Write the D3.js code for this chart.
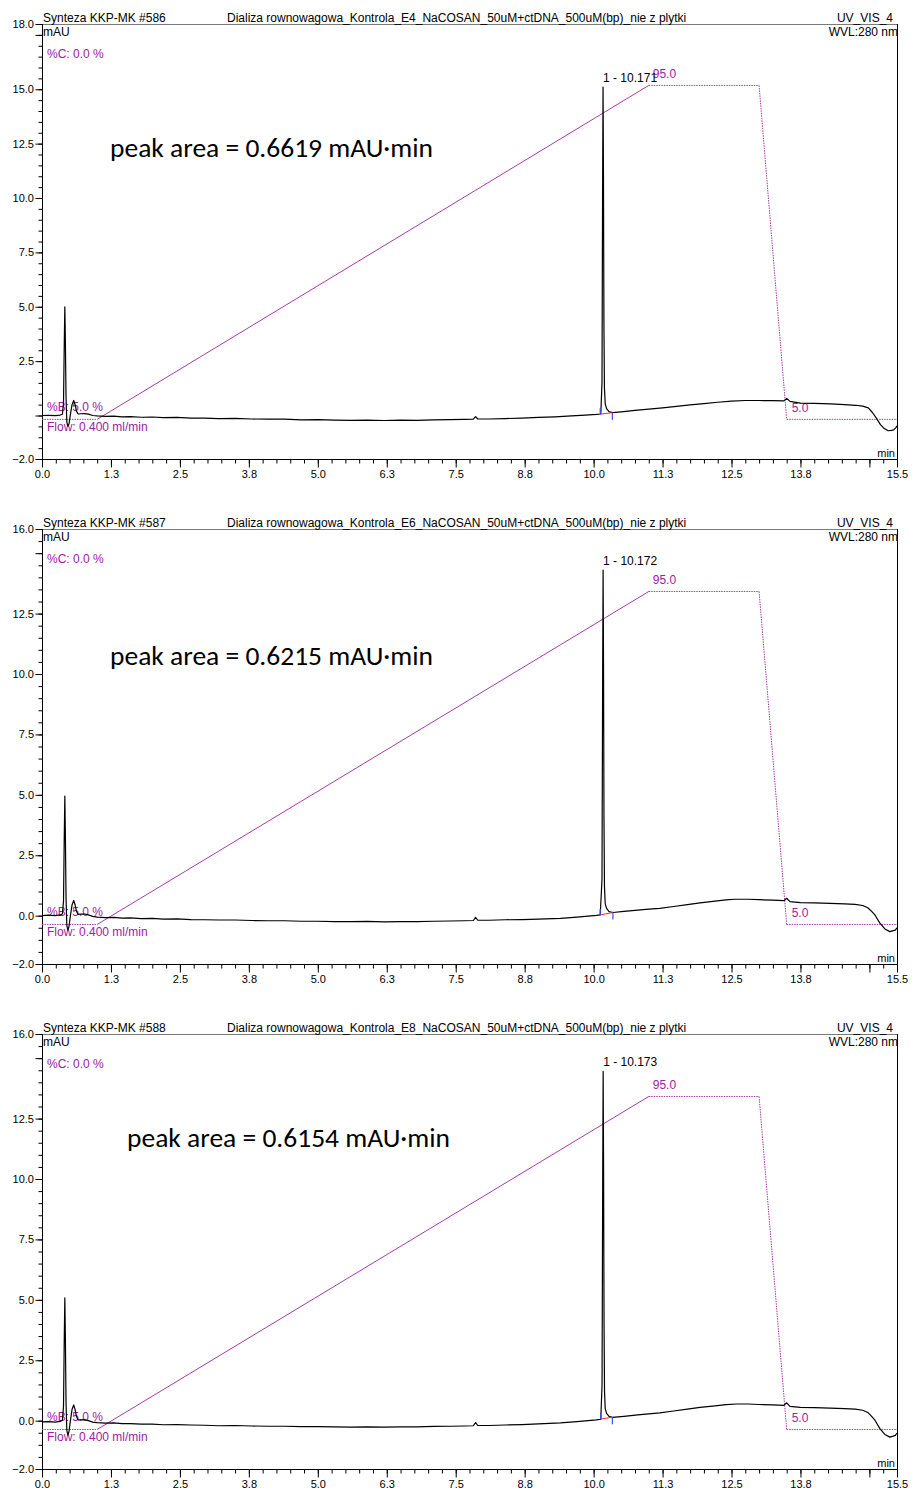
<!DOCTYPE html>
<html>
<head>
<meta charset="utf-8">
<script src="https://cdn.jsdelivr.net/npm/d3@7"></script>
<style>
  body { margin: 0; background: #fff; }
  svg { display: block; }
  text { font-family: "Liberation Sans", Arial, sans-serif; }
</style>
</head>
<body>
<svg id="chart" width="913" height="1492"></svg>
<script>
// ---- Run metadata (one entry per injection) ----
const sampleIds = ["Synteza KKP-MK #586", "Synteza KKP-MK #587", "Synteza KKP-MK #588"];
const sampleNames = [
  "Dializa rownowagowa_Kontrola_E4_NaCOSAN_50uM+ctDNA_500uM(bp)_nie z plytki",
  "Dializa rownowagowa_Kontrola_E6_NaCOSAN_50uM+ctDNA_500uM(bp)_nie z plytki",
  "Dializa rownowagowa_Kontrola_E8_NaCOSAN_50uM+ctDNA_500uM(bp)_nie z plytki"
];
const channelName = "UV_VIS_4";
const wavelengthLabel = "WVL:280 nm";
const peakRetention = [10.171, 10.172, 10.173];
const peakAreaLabels = ["peak area = 0.6619 mAU\u00b7min", "peak area = 0.6215 mAU\u00b7min", "peak area = 0.6154 mAU\u00b7min"];

// ---- Axis settings ----
const timeDomain = [0, 15.5];
const signalMax = [18, 16, 16];
const signalMin = [-2, -2, -2];
const timeMajorTicks = [0, 1.25, 2.5, 3.75, 5, 6.25, 7.5, 8.75, 10, 11.25, 12.5, 13.75, 15, 15.5];
const timeTickLabels = ["0.0", "1.3", "2.5", "3.8", "5.0", "6.3", "7.5", "8.8", "10.0", "11.3", "12.5", "13.8", "", "15.5"];
const signalMajorTicks = [
  [18, 17.5, 15, 12.5, 10, 7.5, 5, 2.5, 0, -2],
  [16, 15, 12.5, 10, 7.5, 5, 2.5, 0, -2],
  [16, 15, 12.5, 10, 7.5, 5, 2.5, 0, -2]
];
const signalTickLabels = [
  [18, 15, 12.5, 10, 7.5, 5, 2.5, -2],
  [16, 12.5, 10, 7.5, 5, 2.5, 0, -2],
  [16, 12.5, 10, 7.5, 5, 2.5, 0, -2]
];

// ---- Pump gradient program (%B) ----
const gradientTime = [0, 1.0, 11.0, 13.0, 13.5, 15.5];
const gradientPctB = [5, 5, 95, 95, 5, 5];
// %B 0..100 expressed on the signal axis of each panel
const pctBToSignal = [[-1.03, 16.03], [-1.13, 14.18], [-1.13, 14.18]];

// ---- Detector traces: [time (min), signal (mAU)] ----
const trace586 = [
  [0.00, 0.00], [0.12, 0.01], [0.24, -0.01], [0.33, 0.02], [0.37, 0.06], [0.39, 0.6], [0.402, 3.0],
  [0.414, 5.0], [0.424, 3.4], [0.436, 0.8], [0.45, -0.3], [0.468, -0.49], [0.49, -0.38], [0.515, 0.05],
  [0.545, 0.5], [0.575, 0.69], [0.60, 0.5], [0.625, 0.2], [0.655, 0.07], [0.70, 0.08], [0.77, 0.09],
  [0.84, 0.06], [0.92, 0.0], [1.00, -0.02], [1.15, -0.04], [1.30, -0.03], [1.45, -0.06], [1.60, -0.05],
  [1.80, -0.08], [2.00, -0.07], [2.20, -0.10], [2.45, -0.09], [2.70, -0.12], [2.95, -0.12], [3.20, -0.14],
  [3.50, -0.13], [3.80, -0.16], [4.10, -0.17], [4.40, -0.17], [4.70, -0.20], [5.00, -0.19], [5.30, -0.21],
  [5.60, -0.22], [5.90, -0.21], [6.20, -0.23], [6.50, -0.21], [6.80, -0.22], [7.10, -0.20], [7.40, -0.19],
  [7.65, -0.18], [7.82, -0.17], [7.86, -0.05], [7.90, -0.16], [8.10, -0.16], [8.40, -0.14], [8.70, -0.12],
  [9.00, -0.09], [9.30, -0.06], [9.60, -0.02], [9.85, 0.02], [10.05, 0.05], [10.13, 0.07], [10.152, 1.5],
  [10.163, 10.5], [10.171, 15.1], [10.179, 10.8], [10.187, 4.2], [10.196, 1.3], [10.21, 0.55], [10.235, 0.32],
  [10.28, 0.18], [10.34, 0.13], [10.50, 0.17], [10.75, 0.24], [11.00, 0.29], [11.25, 0.35], [11.50, 0.42],
  [11.75, 0.49], [12.00, 0.55], [12.25, 0.61], [12.50, 0.66], [12.75, 0.69], [13.00, 0.69], [13.25, 0.68],
  [13.45, 0.67], [13.50, 0.79], [13.56, 0.65], [13.75, 0.57], [14.00, 0.56], [14.30, 0.53], [14.55, 0.50],
  [14.75, 0.47], [14.88, 0.43], [14.98, 0.35], [15.05, 0.15], [15.12, -0.10], [15.20, -0.42], [15.27, -0.60],
  [15.34, -0.70], [15.40, -0.68], [15.44, -0.66], [15.48, -0.56], [15.50, -0.48]
];
const trace587 = [
  [0.00, 0.00], [0.12, 0.02], [0.24, 0.00], [0.33, 0.03], [0.37, 0.07], [0.39, 0.6], [0.402, 3.0],
  [0.414, 4.95], [0.424, 3.3], [0.436, 0.7], [0.45, -0.4], [0.468, -0.60], [0.49, -0.45], [0.515, 0.0],
  [0.545, 0.45], [0.575, 0.63], [0.60, 0.45], [0.625, 0.18], [0.655, 0.05], [0.70, 0.06], [0.77, 0.07],
  [0.84, 0.03], [0.92, -0.03], [1.00, -0.06], [1.15, -0.08], [1.30, -0.07], [1.45, -0.10], [1.60, -0.09],
  [1.80, -0.12], [2.00, -0.11], [2.20, -0.14], [2.45, -0.13], [2.70, -0.16], [2.95, -0.17], [3.20, -0.18],
  [3.50, -0.18], [3.80, -0.20], [4.10, -0.21], [4.40, -0.21], [4.70, -0.23], [5.00, -0.23], [5.30, -0.25],
  [5.60, -0.25], [5.90, -0.24], [6.20, -0.26], [6.50, -0.25], [6.80, -0.25], [7.10, -0.23], [7.40, -0.22],
  [7.65, -0.21], [7.82, -0.20], [7.86, -0.07], [7.90, -0.19], [8.10, -0.19], [8.40, -0.17], [8.70, -0.16],
  [9.00, -0.14], [9.40, -0.11], [9.70, -0.06], [9.95, -0.01], [10.05, 0.01], [10.12, 0.03], [10.152, 1.5],
  [10.164, 10.0], [10.172, 14.3], [10.180, 10.2], [10.188, 4.0], [10.197, 1.2], [10.21, 0.5], [10.235, 0.3],
  [10.28, 0.17], [10.35, 0.13], [10.55, 0.18], [10.80, 0.23], [11.00, 0.27], [11.20, 0.30], [11.45, 0.38],
  [11.70, 0.46], [11.93, 0.53], [12.20, 0.60], [12.40, 0.65], [12.56, 0.68], [12.80, 0.68], [13.00, 0.66],
  [13.25, 0.64], [13.45, 0.62], [13.50, 0.72], [13.56, 0.58], [13.75, 0.54], [14.00, 0.53], [14.29, 0.51],
  [14.55, 0.49], [14.74, 0.47], [14.88, 0.42], [14.97, 0.33], [15.04, 0.18], [15.10, 0.03], [15.19, -0.31],
  [15.28, -0.55], [15.37, -0.66], [15.43, -0.62], [15.47, -0.60], [15.50, -0.50]
];
const trace588 = [
  [0.00, -0.05], [0.12, -0.04], [0.24, -0.06], [0.33, -0.03], [0.37, 0.02], [0.39, 0.6], [0.402, 3.1],
  [0.414, 5.08], [0.424, 3.4], [0.436, 0.7], [0.45, -0.4], [0.468, -0.60], [0.49, -0.45], [0.515, 0.0],
  [0.545, 0.47], [0.575, 0.65], [0.60, 0.46], [0.625, 0.17], [0.655, 0.03], [0.70, 0.03], [0.77, 0.04],
  [0.84, 0.0], [0.92, -0.06], [1.00, -0.08], [1.15, -0.10], [1.30, -0.09], [1.45, -0.12], [1.60, -0.12],
  [1.80, -0.14], [2.00, -0.14], [2.20, -0.17], [2.45, -0.16], [2.70, -0.18], [2.95, -0.19], [3.20, -0.21],
  [3.50, -0.20], [3.80, -0.22], [4.10, -0.23], [4.40, -0.23], [4.70, -0.25], [5.00, -0.25], [5.30, -0.26],
  [5.60, -0.27], [5.90, -0.26], [6.20, -0.27], [6.50, -0.26], [6.80, -0.26], [7.10, -0.24], [7.40, -0.23],
  [7.65, -0.22], [7.82, -0.21], [7.86, -0.08], [7.90, -0.20], [8.10, -0.20], [8.40, -0.18], [8.70, -0.16],
  [9.00, -0.13], [9.40, -0.09], [9.70, -0.04], [9.95, 0.01], [10.05, 0.03], [10.13, 0.06], [10.153, 1.5],
  [10.165, 10.1], [10.173, 14.45], [10.181, 10.3], [10.189, 4.1], [10.198, 1.2], [10.21, 0.5], [10.235, 0.3],
  [10.28, 0.18], [10.34, 0.14], [10.55, 0.18], [10.80, 0.24], [11.00, 0.28], [11.20, 0.32], [11.45, 0.40],
  [11.70, 0.48], [11.93, 0.55], [12.20, 0.61], [12.40, 0.66], [12.60, 0.69], [12.80, 0.69], [13.00, 0.67],
  [13.25, 0.65], [13.45, 0.63], [13.50, 0.74], [13.56, 0.59], [13.75, 0.55], [14.00, 0.54], [14.29, 0.52],
  [14.55, 0.50], [14.74, 0.48], [14.88, 0.43], [14.97, 0.34], [15.04, 0.18], [15.10, 0.02], [15.19, -0.33],
  [15.28, -0.57], [15.37, -0.68], [15.43, -0.64], [15.47, -0.61], [15.50, -0.51]
];
const traces = [trace586, trace587, trace588];

// ---- Integration limits of peak 1: [time, signal] at start and end ----
const integrationStart = [[10.12, 0.06], [10.12, 0.03], [10.13, 0.07]];
const integrationEnd = [[10.34, 0.13], [10.35, 0.13], [10.34, 0.14]];

// ---- Layout ----
const svg = d3.select("#chart");
const plotLeft = 42, plotRight = 897, plotHeight = 435;
const panelTops = [24, 529, 1034];
const areaLabelPos = [[110, 133], [110, 136], [127, 113]];
const purple = "#a020a0";
const purpleLine = "#a93aa9";
const labelSize = 12;

const x = d3.scaleLinear().domain(timeDomain).range([plotLeft, plotRight]);
const minorTimeTicks = d3.range(0, 15.5001, 0.25);

panelTops.forEach((top, i) => {
  const bottom = top + plotHeight;
  const y = d3.scaleLinear().domain([signalMin[i], signalMax[i]]).range([bottom, top]);
  const pct = d3.scaleLinear().domain([0, 100]).range(pctBToSignal[i]);
  const g = svg.append("g");

  // frame: grey top rule, black right border
  g.append("line").attr("x1", plotLeft).attr("x2", plotRight).attr("y1", top + 0.5).attr("y2", top + 0.5)
    .attr("stroke", "#7a7a7a").attr("stroke-width", 1);
  g.append("line").attr("x1", plotRight + 0.5).attr("x2", plotRight + 0.5).attr("y1", top).attr("y2", bottom)
    .attr("stroke", "#000").attr("stroke-width", 1);

  // y axis (minor + major ticks)
  const minorSignal = d3.range(signalMin[i], signalMax[i] + 0.001, 0.5);
  const yAxisMinor = d3.axisLeft(y).tickValues(minorSignal).tickSize(4).tickFormat("");
  const yAxisMajor = d3.axisLeft(y).tickValues(signalMajorTicks[i]).tickSize(7)
    .tickFormat(d => signalTickLabels[i].includes(d) ? d3.format(".1f")(d) : "");
  const gy1 = g.append("g").attr("transform", `translate(${plotLeft + 0.5},0)`).call(yAxisMinor);
  const gy2 = g.append("g").attr("transform", `translate(${plotLeft + 0.5},0)`).call(yAxisMajor);
  [gy1, gy2].forEach(a => { a.select(".domain").remove(); a.selectAll("line").attr("stroke", "#000"); });
  gy2.selectAll("text").attr("font-size", 11).attr("fill", "#000").attr("x", -8.5)
    .style("font-family", "'Liberation Sans', Arial, sans-serif");
  g.append("line").attr("x1", plotLeft + 0.5).attr("x2", plotLeft + 0.5).attr("y1", top).attr("y2", bottom)
    .attr("stroke", "#000");

  // x axis (minor + major ticks)
  const xAxisMinor = d3.axisBottom(x).tickValues(minorTimeTicks).tickSize(4).tickFormat("");
  const xAxisMajor = d3.axisBottom(x).tickValues(timeMajorTicks).tickSize(8)
    .tickFormat((d, k) => timeTickLabels[k]);
  const gx1 = g.append("g").attr("transform", `translate(0,${bottom + 0.5})`).call(xAxisMinor);
  const gx2 = g.append("g").attr("transform", `translate(0,${bottom + 0.5})`).call(xAxisMajor);
  [gx1, gx2].forEach(a => { a.select(".domain").remove(); a.selectAll("line").attr("stroke", "#000"); });
  gx2.selectAll("text").attr("font-size", 11).attr("fill", "#000").attr("y", 11)
    .style("font-family", "'Liberation Sans', Arial, sans-serif");
  g.append("line").attr("x1", plotLeft).attr("x2", plotRight + 1).attr("y1", bottom + 0.5).attr("y2", bottom + 0.5)
    .attr("stroke", "#000");

  // header texts
  g.append("text").attr("x", plotLeft + 1).attr("y", top - 2).attr("font-size", labelSize).text(sampleIds[i]);
  g.append("text").attr("x", 227).attr("y", top - 2).attr("font-size", labelSize).text(sampleNames[i]);
  g.append("text").attr("x", plotRight - 4).attr("y", top - 2).attr("font-size", labelSize)
    .attr("text-anchor", "end").text(channelName);
  g.append("text").attr("x", plotLeft + 1).attr("y", top + 12).attr("font-size", labelSize).text("mAU");
  g.append("text").attr("x", plotRight + 1).attr("y", top + 12).attr("font-size", labelSize)
    .attr("text-anchor", "end").text(wavelengthLabel);
  g.append("text").attr("x", plotRight - 2).attr("y", bottom - 2).attr("font-size", 11)
    .attr("text-anchor", "end").text("min");
  g.append("text").attr("x", plotLeft + 5).attr("y", top + 34).attr("font-size", labelSize)
    .attr("fill", purple).text("%C: 0.0 %");

  // gradient program
  const gradPts = gradientTime.map((t, k) => [t, gradientPctB[k]]);
  for (let k = 0; k < gradPts.length - 1; k++) {
    const a = gradPts[k], b = gradPts[k + 1];
    const ramp = a[1] !== b[1] && (b[0] - a[0]) > 1;
    g.append("line")
      .attr("x1", x(a[0])).attr("y1", y(pct(a[1])))
      .attr("x2", x(b[0])).attr("y2", y(pct(b[1])))
      .attr("stroke", purpleLine).attr("stroke-width", 1)
      .attr("stroke-dasharray", ramp ? null : "1.5,1");
  }
  const topB = d3.max(gradientPctB), lowB = gradientPctB[gradientPctB.length - 1];
  g.append("text").attr("x", x(gradientTime[2]) + 4).attr("y", y(pct(topB)) - 7).attr("font-size", labelSize)
    .attr("fill", purple).text(d3.format(".1f")(topB));
  g.append("text").attr("x", x(gradientTime[4]) + 5).attr("y", y(pct(lowB)) - 7).attr("font-size", labelSize)
    .attr("fill", purple).text(d3.format(".1f")(lowB));
  g.append("text").attr("x", plotLeft + 5).attr("y", y(pct(gradientPctB[0])) - 8).attr("font-size", labelSize)
    .attr("fill", purple).text(`%B: ${d3.format(".1f")(gradientPctB[0])} %`);
  g.append("text").attr("x", plotLeft + 5).attr("y", y(pct(gradientPctB[0])) + 12).attr("font-size", labelSize)
    .attr("fill", purple).text("Flow: 0.400 ml/min");

  // detector trace
  const line = d3.line().x(d => x(d[0])).y(d => y(d[1]));
  g.append("path").datum(traces[i]).attr("d", line)
    .attr("fill", "none").attr("stroke", "#000").attr("stroke-width", 1.2).attr("stroke-linejoin", "round");

  // integration baseline and delimiters
  const s = integrationStart[i], e = integrationEnd[i];
  g.append("line").attr("x1", x(s[0])).attr("y1", y(s[1])).attr("x2", x(e[0])).attr("y2", y(e[1]))
    .attr("stroke", "#ff2a2a").attr("stroke-width", 1);
  g.append("line").attr("x1", x(s[0])).attr("x2", x(s[0])).attr("y1", y(s[1])).attr("y2", y(s[1]) - 6)
    .attr("stroke", "#3050ff").attr("stroke-width", 1.2);
  g.append("line").attr("x1", x(e[0])).attr("x2", x(e[0])).attr("y1", y(e[1])).attr("y2", y(e[1]) + 7)
    .attr("stroke", "#3050ff").attr("stroke-width", 1.2);

  // peak label
  const apex = d3.greatest(traces[i].filter(d => d[0] > 5), d => d[1]);
  g.append("text").attr("x", x(peakRetention[i])).attr("y", y(apex[1]) - 5).attr("font-size", labelSize)
    .text(`1 - ${d3.format(".3f")(peakRetention[i])}`);

  // peak area annotation
  g.append("text").attr("x", areaLabelPos[i][0]).attr("y", top + areaLabelPos[i][1])
    .attr("font-size", 27.5).style("font-family", "Carlito, Lato, 'Open Sans', sans-serif")
    .text(peakAreaLabels[i]);
});
</script>
</body>
</html>
